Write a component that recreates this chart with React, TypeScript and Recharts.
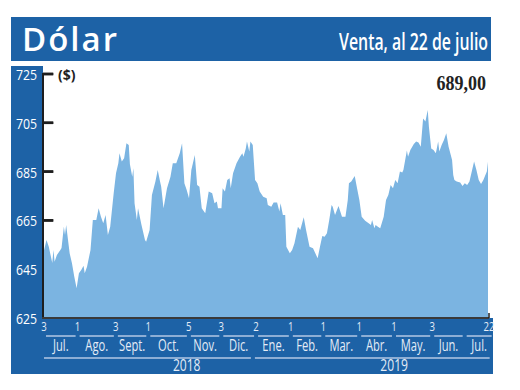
import React from 'react'
import { AreaChart, Area, XAxis, YAxis, ReferenceLine } from 'recharts'

// days counted from 3 Jul 2018, dollar selling price (CLP)
const DAYS = [
  0, 3, 5, 8, 9, 10, 12, 15, 16, 18,
  19, 20, 23, 25, 27, 29, 31, 33, 35, 36,
  38, 41, 43, 46, 48, 50, 52, 54, 56, 58,
  61, 63, 65, 66, 68, 70, 72, 74, 75, 77,
  78, 79, 81, 82, 85, 88, 89, 92, 94, 97,
  99, 101, 102, 104, 107, 110, 112, 115, 118, 120,
  122, 124, 126, 128, 131, 133, 135, 137, 140, 143,
  146, 148, 150, 151, 154, 155, 157, 159, 161, 162,
  164, 167, 170, 172, 173, 175, 176, 178, 179, 181,
  183, 185, 187, 190, 193, 194, 197, 199, 202, 204,
  205, 207, 209, 210, 213, 215, 217, 220, 222, 225,
  227, 230, 233, 235, 237, 239, 241, 243, 245, 247,
  249, 250, 252, 255, 258, 261, 263, 264, 266, 269,
  271, 273, 275, 278, 281, 283, 284, 286, 287, 289,
  291, 294, 296, 298, 300, 302, 304, 306, 308, 310,
  311, 314, 315, 317, 320, 322, 324, 326, 328, 330,
  332, 333, 335, 337, 339, 341, 342, 344, 346, 348,
  350, 353, 354, 355, 357, 360, 362, 364, 366, 368,
  370, 372, 374, 376, 378, 380, 383, 384,
]

const VENTA = [
  651, 657, 654.2, 647.5, 652.9, 648.1, 650.8, 652.9, 653.7, 662.4,
  659, 663.1, 651.5, 647.4, 641.9, 637.2, 643.3, 644.7, 646.4, 643.3,
  646, 652.9, 665.2, 665.2, 670, 666.5, 663.8, 667.2, 659, 662.4,
  676.1, 684.3, 688.4, 692.5, 689.1, 690.5, 696.6, 695.9, 688, 682.9,
  686.4, 672, 665.2, 670, 663.1, 657, 656.3, 661.1, 675.4, 680.9,
  685.7, 680.9, 678.8, 670, 678.2, 682.9, 688.4, 688.4, 692.5, 696.6,
  680.2, 677.5, 674.1, 685.7, 691.8, 679.5, 678.8, 670, 667.9, 676.8,
  676.1, 672, 672.7, 670, 670, 678.2, 676.8, 681.6, 682.3, 678.2,
  684.3, 688.4, 691.1, 692.5, 691.1, 694.5, 697.3, 693.2, 697.3, 695.9,
  681.6, 680.2, 676.8, 674.7, 674.1, 671.3, 670.6, 672.3, 672.3, 668.6,
  672, 667.2, 667.2, 654.2, 651.5, 652.9, 655.6, 662.4, 661.1, 666.3,
  661.1, 654.2, 653.6, 651.5, 649.5, 654.2, 658.6, 658.3, 659.7, 665.2,
  671.3, 670.6, 667.2, 670.9, 666.5, 666.5, 673.4, 680.2, 680.9, 683.2,
  678.2, 673.4, 666.5, 664.9, 663.8, 663.1, 665.2, 661.8, 663.1, 662.4,
  661.8, 666.5, 673.4, 675.4, 679.5, 678.2, 681.6, 680.2, 685, 684.6,
  685.7, 693.6, 691.1, 693.9, 696.3, 697.3, 696.9, 695.2, 706.8, 705.5,
  710.2, 703.4, 694.5, 693.9, 692.5, 697.3, 693.2, 695.9, 697.9, 700.7,
  695.2, 689.8, 683.6, 681.6, 680.9, 680.5, 679.1, 680.2, 679.5, 680.9,
  685, 689.1, 685.7, 681.6, 679.9, 681.6, 685, 689,
]

const Y_TICKS = [625, 645, 665, 685, 705, 725]
// tick marks that show above the area (645 sits under the fill)
const Y_MARKS = [665, 685, 705, 725]
const DAY_TICKS = [0, 29, 62, 90, 125, 153, 183, 213, 241, 272, 302, 335, 384]
const DAY_LABELS = ['3', '1', '3', '1', '5', '3', '2', '1', '1', '1', '1', '3', '22']
const MONTH_BOUNDS = [0, 29, 62, 90, 125, 153, 183, 213, 241, 272, 302, 335, 363, 388]
const MONTHS = ['Jul.', 'Ago.', 'Sept.', 'Oct.', 'Nov.', 'Dic.', 'Ene.', 'Feb.', 'Mar.', 'Abr.', 'May.', 'Jun.', 'Jul.']
const YEAR_BOUNDS = [0, 182, 388]
const YEARS = ['2018', '2019']
const YEAR_LABEL_DAYS = [124, 303]

const data = DAYS.map((d, i) => ({ day: d, venta: VENTA[i] }))
const monthMids = MONTHS.map((_, i) => (MONTH_BOUNDS[i] + MONTH_BOUNDS[i + 1]) / 2)

const BLUE = '#1d62a6'
const FILL = '#7bb4e1'
const BAND_TEXT = '#e4ecf6'
const RULE = '#b3c9e4'
const INK = '#1e1e1e'
const FONT = "'Open Sans', sans-serif"

const W = 520
const H = 390
const MARGIN = { top: 74, right: 32, bottom: 16, left: 12 }
const Y_AXIS_W = 31
const DOMAIN_END = 384
const PLOT_L = MARGIN.left + Y_AXIS_W
const PLOT_R = W - MARGIN.right
const PLOT_T = MARGIN.top
const PLOT_B = 318
const PX_PER_DAY = (PLOT_R - PLOT_L) / DOMAIN_END
const PX_PER_UNIT = (PLOT_B - PLOT_T) / 100
const TICK_DAYS = 9

const YTick = ({ x, y, payload }: any) => (
  <text
    transform={`translate(${x},${y + 6}) scale(0.82,1)`}
    textAnchor="end"
    fill="#fff"
    fontSize={15}
    fontFamily={FONT}
  >
    {payload.value}
  </text>
)

const DayTick = ({ x, y, payload }: any) => (
  <text
    transform={`translate(${x + 1},${y + 13}) scale(0.8,1)`}
    textAnchor="middle"
    fill={BAND_TEXT}
    fontSize={12}
    fontFamily={FONT}
  >
    {DAY_LABELS[DAY_TICKS.indexOf(payload.value)]}
  </text>
)

const MonthTick = ({ x, y, payload }: any) => {
  const i = monthMids.indexOf(payload.value)
  const half = ((MONTH_BOUNDS[i + 1] - MONTH_BOUNDS[i]) * PX_PER_DAY) / 2
  return (
    <g>
      <line x1={x - half + 3} x2={x + half - 1} y1={y + 3} y2={y + 3} stroke={RULE} strokeWidth={1.5} />
      <text
        transform={`translate(${x + 1},${y + 18}) scale(0.72,1)`}
        textAnchor="middle"
        fill={BAND_TEXT}
        fontSize={15.5}
        fontFamily={FONT}
      >
        {MONTHS[i]}
      </text>
    </g>
  )
}

const YearTick = ({ x, y, payload }: any) => {
  const i = YEAR_LABEL_DAYS.indexOf(payload.value)
  const x0 = x + (YEAR_BOUNDS[i] - payload.value) * PX_PER_DAY
  const x1 = x + (YEAR_BOUNDS[i + 1] - payload.value) * PX_PER_DAY
  return (
    <g>
      <line x1={x0 + 1} x2={x1 - 3} y1={y + 3} y2={y + 3} stroke={RULE} strokeWidth={1.5} />
      <text
        transform={`translate(${x},${y + 16}) scale(0.78,1)`}
        textAnchor="middle"
        fill={BAND_TEXT}
        fontSize={15.5}
        fontFamily={FONT}
      >
        {YEARS[i]}
      </text>
    </g>
  )
}

const box = (left: number, top: number, width: number, height: number): React.CSSProperties => ({
  position: 'absolute',
  left,
  top,
  width,
  height,
  background: BLUE,
})

export default function App() {
  return (
    <div style={{ position: 'absolute', left: 0, top: 0, width: W, height: H, background: '#fff' }}>
      <div style={box(11, 17, 480, 44)} />
      <div style={box(11, 66, 32, 308)} />
      <div style={box(11, 318, 482, 56)} />
      <div style={{ position: 'absolute', left: 0, top: 0, zIndex: 1 }}>
        <AreaChart width={W} height={H} data={data} margin={MARGIN}>
          <YAxis
            type="number"
            domain={[625, 725]}
            ticks={Y_TICKS}
            width={Y_AXIS_W}
            tickSize={0}
            tickMargin={6}
            tick={YTick}
            axisLine={false}
            tickLine={false}
            interval={0}
          />
          <XAxis
            dataKey="day"
            type="number"
            domain={[0, DOMAIN_END]}
            ticks={DAY_TICKS}
            height={15}
            tickSize={0}
            tickMargin={0}
            tick={DayTick}
            tickLine={false}
            axisLine={false}
            interval={0}
          />
          <XAxis
            xAxisId="month"
            dataKey="day"
            type="number"
            domain={[0, DOMAIN_END]}
            ticks={monthMids}
            height={22}
            tickSize={0}
            tickMargin={0}
            tick={MonthTick}
            tickLine={false}
            axisLine={false}
            interval={0}
          />
          <XAxis
            xAxisId="year"
            dataKey="day"
            type="number"
            domain={[0, DOMAIN_END]}
            ticks={YEAR_LABEL_DAYS}
            height={19}
            tickSize={0}
            tickMargin={0}
            tick={YearTick}
            tickLine={false}
            axisLine={false}
            interval={0}
          />
          <Area
            type="linear"
            dataKey="venta"
            stroke="none"
            fill={FILL}
            fillOpacity={1}
            isAnimationActive={false}
          />
          {Y_MARKS.map((v) => (
            <ReferenceLine
              key={v}
              segment={[{ x: 0, y: v }, { x: TICK_DAYS, y: v }]}
              stroke={INK}
              strokeWidth={2.5}
            />
          ))}
          <ReferenceLine x={0} stroke={INK} strokeWidth={2} />
          <ReferenceLine y={625} stroke="#3a3a3a" strokeWidth={2} />
        </AreaChart>
      </div>
      <svg width={W} height={H} style={{ position: 'absolute', left: 0, top: 0, zIndex: 2, pointerEvents: 'none' }}>
        {/* axis frame and left tick marks */}
        <line x1={PLOT_L} x2={PLOT_L} y1={PLOT_T - 1} y2={PLOT_B + 1} stroke={INK} strokeWidth={2} />
        <line x1={PLOT_L - 1} x2={PLOT_R + 1} y1={PLOT_B} y2={PLOT_B} stroke="#3a3a3a" strokeWidth={2} />
        <line x1={PLOT_R + 1} x2={PLOT_R + 1} y1={PLOT_B - 5} y2={PLOT_B} stroke={INK} strokeWidth={1.5} />
        {Y_MARKS.map((v) => (
          <line
            key={v}
            x1={PLOT_L}
            x2={PLOT_L + 10}
            y1={PLOT_T + (725 - v) * PX_PER_UNIT}
            y2={PLOT_T + (725 - v) * PX_PER_UNIT}
            stroke={INK}
            strokeWidth={2.5}
          />
        ))}
        <text x={22} y={51} fill="#fff" fontSize={33} fontWeight={600} letterSpacing={2} fontFamily={FONT}>
          Dólar
        </text>
        <text
          transform="translate(488,50) scale(0.66,1)"
          textAnchor="end"
          fill="#fff"
          fontSize={24}
          fontWeight={600}
          fontFamily={FONT}
        >
          Venta, al 22 de julio
        </text>
        <text x={58} y={80} fill="#222" fontSize={14} fontWeight={700} fontFamily={FONT}>
          ($)
        </text>
        <text
          transform="translate(486,90) scale(0.9,1)"
          textAnchor="end"
          fill="#222"
          fontSize={20}
          fontWeight={700}
          fontFamily="'Liberation Serif', serif"
        >
          689,00
        </text>
      </svg>
    </div>
  )
}
